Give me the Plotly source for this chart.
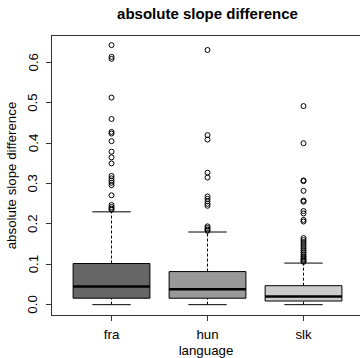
import plotly.graph_objects as go

# Box-plot summary of the absolute slope difference per language
languages = ["fra", "hun", "slk"]
q1 = [0.016, 0.016, 0.009]
medians = [0.045, 0.038, 0.020]
q3 = [0.102, 0.082, 0.047]
whisker_lo = [0.0, 0.0, 0.0]
whisker_hi = [0.230, 0.180, 0.103]
fills = ["#666666", "#999999", "#CCCCCC"]

y_ticks = [0.0, 0.1, 0.2, 0.3, 0.4, 0.5, 0.6]
y_tick_labels = ["0.0", "0.1", "0.2", "0.3", "0.4", "0.5", "0.6"]

outliers_fra = [0.643, 0.614, 0.609, 0.513, 0.460, 0.428, 0.424, 0.405, 0.379,
                0.365, 0.350, 0.319, 0.313, 0.307, 0.302, 0.296, 0.271, 0.247,
                0.242, 0.238, 0.235]
outliers_hun = [0.631, 0.420, 0.409, 0.327, 0.315, 0.268, 0.262, 0.256, 0.250,
                0.245, 0.194, 0.190, 0.186, 0.183]
outliers_slk = [0.492, 0.400, 0.308, 0.306, 0.282, 0.258, 0.255, 0.232, 0.226,
                0.210, 0.206, 0.165, 0.160, 0.155, 0.150, 0.145, 0.140, 0.135,
                0.130, 0.125, 0.120, 0.116, 0.112, 0.109, 0.106]
outliers = [outliers_fra, outliers_hun, outliers_slk]

HALF = 0.4      # half box width in axis units
STAPLE = 0.2    # half staple width

fig = go.Figure()

for i, lang in enumerate(languages):
    xc = i + 1
    # dashed whiskers
    for a, b in ((q3[i], whisker_hi[i]), (whisker_lo[i], q1[i])):
        fig.add_trace(go.Scatter(x=[xc, xc], y=[a, b], mode="lines",
                                 line=dict(color="black", width=1, dash="3px,2px"),
                                 hoverinfo="skip", showlegend=False))
    # staples
    for v in (whisker_hi[i], whisker_lo[i]):
        fig.add_trace(go.Scatter(x=[xc - STAPLE, xc + STAPLE], y=[v, v], mode="lines",
                                 line=dict(color="black", width=1),
                                 hoverinfo="skip", showlegend=False))
    # box body
    fig.add_trace(go.Scatter(
        x=[xc - HALF, xc + HALF, xc + HALF, xc - HALF, xc - HALF],
        y=[q1[i], q1[i], q3[i], q3[i], q1[i]],
        mode="lines", fill="toself", fillcolor=fills[i],
        line=dict(color="black", width=1), name=lang,
        hoverinfo="skip", showlegend=False))
    # median
    fig.add_trace(go.Scatter(x=[xc - HALF, xc + HALF], y=[medians[i], medians[i]],
                             mode="lines", line=dict(color="black", width=2.5),
                             hoverinfo="skip", showlegend=False))
    # outliers
    fig.add_trace(go.Scatter(x=[xc] * len(outliers[i]), y=outliers[i], mode="markers",
                             marker=dict(symbol="circle-open", size=5,
                                         color="black", line=dict(width=1)),
                             showlegend=False))

font_family = "Liberation Sans, Arial, Helvetica, sans-serif"
frame = "#333333"

# vertical y tick labels, set a little further from the axis than the default
for v, lab in zip(y_ticks, y_tick_labels):
    fig.add_annotation(x=0, xref="paper", y=v, yref="y", text=lab, textangle=-90,
                       showarrow=False, xanchor="center", yanchor="middle",
                       xshift=-19, font=dict(size=13.3, family=font_family))

fig.update_layout(
    width=360, height=358,
    margin=dict(l=52, r=0, t=36, b=43),
    paper_bgcolor="white", plot_bgcolor="white",
    font=dict(family=font_family, size=13.3, color="black"),
    title=dict(text="<b>absolute slope difference</b>", x=(52 + 363) / 2 / 360,
               xanchor="center", y=1 - 14 / 358, yanchor="middle",
               font=dict(size=15, family=font_family)),
    xaxis=dict(range=[0.38, 0.38 + 308 / 96], tickvals=[1, 2, 3], ticktext=languages,
               showgrid=False, zeroline=False, showline=True, linecolor=frame,
               linewidth=1, mirror=True, ticks="outside", ticklen=5, tickcolor=frame,
               ticklabelstandoff=2,
               title=dict(text="language", standoff=6, font=dict(size=13.3))),
    yaxis=dict(range=[-0.0256, 0.6656], tickvals=y_ticks, showticklabels=False,
               showgrid=False, zeroline=False, showline=True,
               linecolor=frame, linewidth=1, ticks="outside", ticklen=5,
               tickcolor=frame,
               title=dict(text="absolute slope difference", standoff=26,
                          font=dict(size=13.3))),
)

fig.write_html("out.html")
